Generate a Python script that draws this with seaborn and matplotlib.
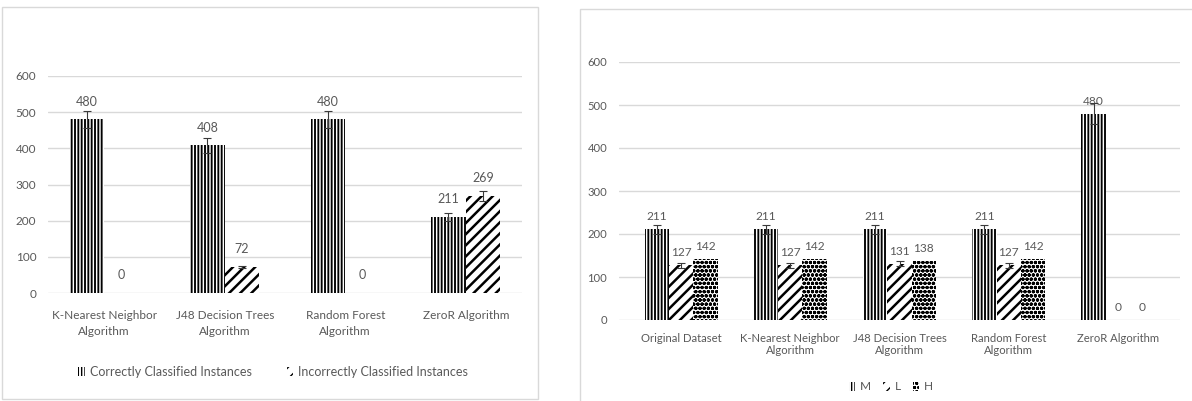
import numpy as np
import pandas as pd
import matplotlib
matplotlib.use("Agg")
import matplotlib.pyplot as plt
from matplotlib.patches import Rectangle, Patch
import seaborn as sns

# ---------------- data ----------------
left_categories = ["K-Nearest Neighbor\nAlgorithm", "J48 Decision Trees\nAlgorithm",
                   "Random Forest\nAlgorithm", "ZeroR Algorithm"]
left_series = ["Correctly Classified Instances", "Incorrectly Classified Instances"]
correct_vals = [480, 408, 480, 211]
incorrect_vals = [0, 72, 0, 269]

right_categories = ["Original Dataset", "K-Nearest Neighbor\nAlgorithm",
                    "J48 Decision Trees\nAlgorithm", "Random Forest\nAlgorithm",
                    "ZeroR Algorithm"]
right_series = ["M", "L", "H"]
m_vals = [211, 211, 211, 211, 480]
l_vals = [127, 127, 131, 127, 0]
h_vals = [142, 142, 138, 142, 0]

y_ticks = [0, 100, 200, 300, 400, 500, 600]
err_pct = 0.05

# ---------------- style ----------------
sns.set_theme(style="white")
plt.rcParams["font.family"] = ["Lato", "DejaVu Sans"]
TXT = "#595959"
GRID = "#d9d9d9"

W, H = 1192, 401
fig = plt.figure(figsize=(W / 100, H / 100), dpi=100)
fig.patch.set_facecolor("white")

def px_axes(x0, x1, y0, y1):
    return fig.add_axes([x0 / W, 1 - y1 / H, (x1 - x0) / W, (y1 - y0) / H])

# panel borders
fig.add_artist(Rectangle((2 / W, 1 - 399 / H), (538 - 2) / W, (399 - 7) / H,
                         transform=fig.transFigure, fill=False, edgecolor=GRID, lw=1.0))
fig.add_artist(Rectangle((580 / W, 1 - 420 / H), (1200 - 580) / W, (420 - 9) / H,
                         transform=fig.transFigure, fill=False, edgecolor=GRID, lw=1.0))

def set_hatch(p, hatch, lw):
    p.set_hatch(hatch)
    p.set_facecolor("white")
    p.set_edgecolor("black")
    p.set_linewidth(0)
    if hasattr(p, "set_hatch_linewidth"):
        p.set_hatch_linewidth(lw)

HATCH = {"v": ("|||||", 1.35), "d": ("///", 1.8), "o": ("oooo", 1.15)}

def style_axes(ax, xpad, lsp, fs):
    ax.set_ylim(0, 600)
    ax.set_yticks(y_ticks)
    ax.yaxis.grid(True, color=GRID, lw=1.0)
    ax.set_axisbelow(True)
    for s in ax.spines.values():
        s.set_visible(False)
    ax.tick_params(axis="both", length=0, colors=TXT, labelsize=fs)
    ax.tick_params(axis="y", pad=8.5)
    ax.tick_params(axis="x", pad=xpad)
    for t in ax.get_xticklabels():
        t.set_linespacing(lsp)
        t.set_color(TXT)
    ax.set_xlabel("")
    ax.set_ylabel("")
    ax.set_facecolor("white")

def add_errs(ax, container, vals):
    xs, ys = [], []
    for p, v in zip(container.patches, vals):
        if v > 0:
            xs.append(p.get_x() + p.get_width() / 2)
            ys.append(v)
    ys = np.array(ys, dtype=float)
    ax.errorbar(xs, ys, yerr=ys * err_pct, fmt="none", ecolor="#3a3a3a",
                elinewidth=0.8, capsize=3, capthick=0.8, zorder=5)

# ---------------- left chart ----------------
FSL = 8.5
dfl = pd.DataFrame({
    "category": left_categories * 2,
    "series": [left_series[0]] * 4 + [left_series[1]] * 4,
    "value": correct_vals + incorrect_vals,
})
axl = px_axes(48, 522, 76, 293)
sns.barplot(data=dfl, x="category", y="value", hue="series", order=left_categories,
            hue_order=left_series, width=0.575, errorbar=None, legend=False, ax=axl)
style_axes(axl, 12, 1.6, FSL)
left_h = ["v", "d"]
for cont, key, vals in zip(axl.containers, left_h, [correct_vals, incorrect_vals]):
    for p in cont.patches:
        set_hatch(p, HATCH[key][0], HATCH[key][1])
    add_errs(axl, cont, vals)
    axl.bar_label(cont, labels=[str(v) for v in vals], padding=8.5, color=TXT, fontsize=FSL + 0.5)

hl = []
for key, lab in zip(left_h, left_series):
    pp = Patch(facecolor="white", edgecolor="black", linewidth=0, hatch=HATCH[key][0], label=lab)
    hl.append(pp)
fig.legend(handles=hl, loc="center", bbox_to_anchor=(273 / W, 1 - 372 / H), ncol=2,
           frameon=False, fontsize=FSL + 0.5, labelcolor=TXT, handlelength=0.55, handleheight=0.8,
           handletextpad=0.4, columnspacing=2.8)

# ---------------- right chart ----------------
FSR = 8.1
dfr = pd.DataFrame({
    "category": right_categories * 3,
    "series": [right_series[0]] * 5 + [right_series[1]] * 5 + [right_series[2]] * 5,
    "value": m_vals + l_vals + h_vals,
})
axr = px_axes(619, 1180, 62, 320)
sns.barplot(data=dfr, x="category", y="value", hue="series", order=right_categories,
            hue_order=right_series, width=0.67, errorbar=None, legend=False, ax=axr)
style_axes(axr, 9, 1.2, FSR)
right_h = ["v", "d", "o"]
for i, (cont, key, vals) in enumerate(zip(axr.containers, right_h, [m_vals, l_vals, h_vals])):
    for p in cont.patches:
        set_hatch(p, HATCH[key][0], HATCH[key][1])
    if i < 2:
        add_errs(axr, cont, vals)
    axr.bar_label(cont, labels=[str(v) for v in vals], padding=5, color=TXT, fontsize=FSR + 0.5)

hr = []
for key, lab in zip(right_h, right_series):
    pp = Patch(facecolor="white", edgecolor="black", linewidth=0, hatch=HATCH[key][0], label=lab)
    hr.append(pp)
fig.legend(handles=hr, loc="center", bbox_to_anchor=(891 / W, 1 - 387 / H), ncol=3,
           frameon=False, fontsize=FSR + 0.5, labelcolor=TXT, handlelength=0.55, handleheight=0.8,
           handletextpad=0.4, columnspacing=1.0)

fig.savefig("out.png", dpi=100, facecolor="white")
